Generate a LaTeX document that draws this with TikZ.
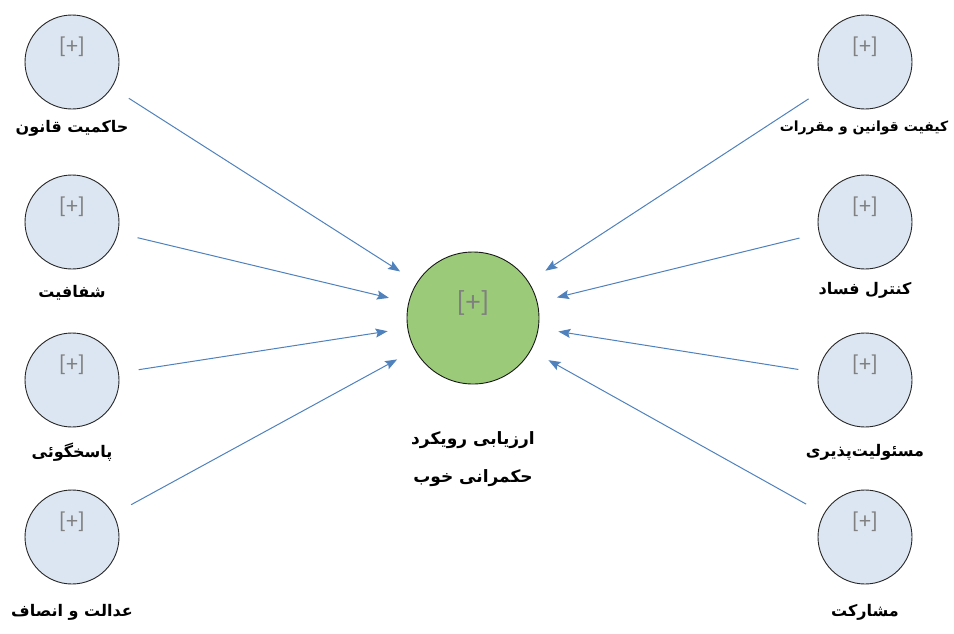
\documentclass[tikz,border=0pt]{standalone}
\usepackage{fontspec}
\TeXXeTstate=1
\newfontfamily\arabicfont[Script=Arabic]{DejaVu Sans}
\newfontfamily\plusfont{Carlito}
\usetikzlibrary{arrows.meta}
\definecolor{smallfill}{RGB}{220,230,242}
\definecolor{bigfill}{RGB}{155,202,120}
\definecolor{arrowcol}{RGB}{79,129,189}
\definecolor{plusgray}{RGB}{128,128,128}
\begin{document}
\begin{tikzpicture}[x=1pt,y=-1pt,
  smallc/.style={circle,draw=black!85,line width=0.9pt,fill=smallfill,minimum size=94pt,inner sep=0pt},
  bigc/.style={circle,draw=black!90,line width=0.9pt,fill=bigfill,minimum size=132pt,inner sep=0pt},
  plus/.style={text=plusgray,font=\plusfont\fontsize{23}{23}\selectfont,inner sep=0pt},
  bigplus/.style={text=plusgray,font=\plusfont\fontsize{29}{29}\selectfont,inner sep=0pt},
  lab/.style={font=\arabicfont\bfseries\fontsize{16}{18}\selectfont,inner sep=0pt},
  biglab/.style={font=\arabicfont\bfseries\fontsize{17}{38}\selectfont,inner sep=0pt,align=center},
  arr/.style={draw=arrowcol,line width=1pt,-{Stealth[length=12pt,width=9pt,inset=2pt]},shorten <=20pt,shorten >=20pt}
]
\useasboundingbox (0,0) rectangle (954,633);

% center
\node[bigc] (c) at (473,318) {};
\node[bigplus] (cp) at (473,303) {[+]};
\node[biglab] (cl) at (473,459) {\beginR ارزیابی رویکرد\endR\\ \beginR حکمرانی خوب\endR};

% left column
\node[smallc] (l1) at (72,62) {};
\node[smallc] (l2) at (72,222) {};
\node[smallc] (l3) at (72,380) {};
\node[smallc] (l4) at (72,537) {};
\node[plus] (l1p) at (72,47) {[+]};
\node[plus] (l2p) at (72,207) {[+]};
\node[plus] (l3p) at (72,365) {[+]};
\node[plus] (l4p) at (72,522) {[+]};
\node[lab] (l1l) at (72,128) {\beginR حاکمیت قانون\endR};
\node[lab] (l2l) at (72,293) {\beginR شفافیت\endR};
\node[lab] (l3l) at (72,452) {\beginR پاسخگوئی\endR};
\node[lab] (l4l) at (72,612) {\beginR عدالت و انصاف\endR};

% right column
\node[smallc] (r1) at (865,62) {};
\node[smallc] (r2) at (865,222) {};
\node[smallc] (r3) at (865,380) {};
\node[smallc] (r4) at (865,537) {};
\node[plus] (r1p) at (865,47) {[+]};
\node[plus] (r2p) at (865,207) {[+]};
\node[plus] (r3p) at (865,365) {[+]};
\node[plus] (r4p) at (865,522) {[+]};
\node[lab,font=\arabicfont\bfseries\fontsize{14}{16}\selectfont] (r1l) at (864,128) {\beginR کیفیت قوانین و مقررات\endR};
\node[lab] (r2l) at (865,290) {\beginR کنترل فساد\endR};
\node[lab] (r3l) at (865,452) {\beginR مسئولیت‌پذیری\endR};
\node[lab] (r4l) at (865,612) {\beginR مشارکت\endR};

% connectors
\foreach \n in {l1,l2,l3,l4,r1,r2,r3,r4}
  \draw[arr] (\n) -- (c);
\end{tikzpicture}
\end{document}
